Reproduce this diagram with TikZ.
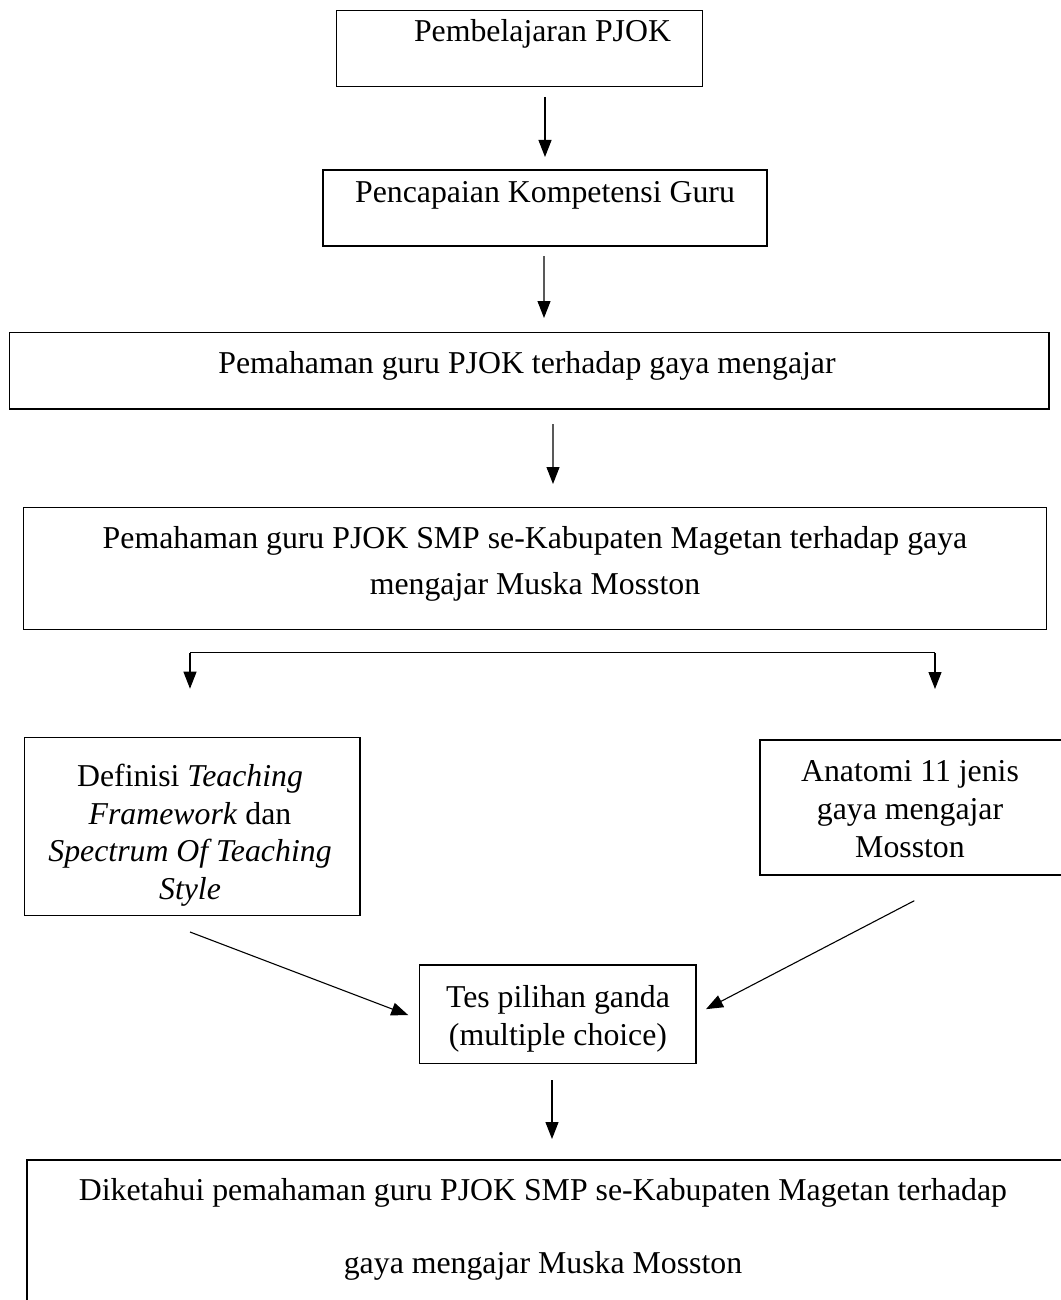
\documentclass[tikz,border=0pt]{standalone}
\usepackage{fontspec}
\setmainfont{Liberation Serif}
\usetikzlibrary{arrows.meta,calc}
\begin{document}
\begin{tikzpicture}[x=1pt,y=1pt,
  box/.style={draw=black, line width=1.4pt, rectangle, inner sep=0pt, outer sep=0pt, anchor=north west},
  txt/.style={inner sep=0pt, outer sep=0pt, align=center, anchor=north},
  arr/.style={draw=black, line width=1.1pt, -{Triangle[length=17pt,width=13pt]}},
  brk/.style={draw=black, line width=1.1pt}]
\useasboundingbox (0,0) rectangle (1060,-1300);
% boxes
\node[box, minimum width=365.6, minimum height=76] (b1) at (336.7,-10.7) {};
\node[box, minimum width=444, minimum height=76] (b2) at (323,-170) {};
\node[box, minimum width=1039.3, minimum height=76.7] (b3) at (9.7,-332.3) {};
\node[box, minimum width=1023.4, minimum height=121.6] (b4) at (23.3,-507.7) {};
\node[box, minimum width=335.5, minimum height=178.4] (b5) at (24.5,-737.3) {};
\node[box, minimum width=304, minimum height=135] (b6) at (760,-740) {};
\node[box, minimum width=1037, minimum height=150] (b8) at (27,-1160) {};
\node[box, minimum width=276.7, minimum height=98.3] (b7) at (419.3,-965) {};
% texts (north anchor sits 31.6pt above the first baseline)
\node[txt, font={\fontsize{31.8}{38}\selectfont}] (t1) at (542.5,-9.8) {\rule{0pt}{31.6pt}Pembelajaran PJOK};
\node[txt, font={\fontsize{31.8}{38}\selectfont}] (t2) at (545,-171.4) {\rule{0pt}{31.6pt}Pencapaian Kompetensi Guru};
\node[txt, font={\fontsize{31.8}{38}\selectfont}] (t3) at (527,-342.1) {\rule{0pt}{31.6pt}Pemahaman guru PJOK terhadap gaya mengajar};
\node[txt, font={\fontsize{31.8}{46}\selectfont}] (t4) at (535,-516.4) {\rule{0pt}{31.6pt}Pemahaman guru PJOK SMP se-Kabupaten Magetan terhadap gaya\\mengajar Muska Mosston};
\node[txt, font={\fontsize{31.8}{37.5}\selectfont}] (t5) at (190,-755.1) {\rule{0pt}{31.6pt}Definisi \textit{Teaching}\\\textit{Framework} dan\\\textit{Spectrum Of Teaching}\\\textit{Style}};
\node[txt, font={\fontsize{31.8}{38}\selectfont}] (t6) at (910,-749.4) {\rule{0pt}{31.6pt}Anatomi 11 jenis\\gaya mengajar\\Mosston};
\node[txt, font={\fontsize{31.8}{38}\selectfont}] (t7) at (558,-975.4) {\rule{0pt}{31.6pt}Tes pilihan ganda\\(multiple choice)};
\node[txt, font={\fontsize{31.8}{73}\selectfont}] (t8) at (543,-1168.4) {\rule{0pt}{31.6pt}Diketahui pemahaman guru PJOK SMP se-Kabupaten Magetan terhadap\\gaya mengajar Muska Mosston};
% connectors
\draw[arr] ($(b1.south)+(25.5,-10.3)$) -- ($(b2.north)+(0,13)$);
\draw[arr] ($(b2.south)+(-1,-10)$) -- ($(b3.north)+(14.65,14.3)$);
\draw[arr] ($(b3.south)+(23.65,-15)$) -- ($(b4.north)+(18,23.7)$);
\coordinate (s1) at ($(b4.south)+(-345,-23.4)$);
\coordinate (s2) at ($(b4.south)+(400,-23.4)$);
\draw[brk] (s1) -- (s2);
\draw[arr] (s1) -- ($(s1 |- b5.north)+(0,48.6)$);
\draw[arr] (s2) -- ($(s2 |- b6.north)+(0,51)$);
\draw[arr] ($(b5.south)+(-2.25,-16.3)$) -- ($(b7.west)+(-11,-1)$);
\draw[arr] ($(b6.south)+(2.3,-25.7)$) -- ($(b7.east)+(10,5)$);
\draw[arr] ($(b7.south)+(-5.65,-16.7)$) -- ($(b8.north)+(6.5,21)$);
\end{tikzpicture}
\end{document}
